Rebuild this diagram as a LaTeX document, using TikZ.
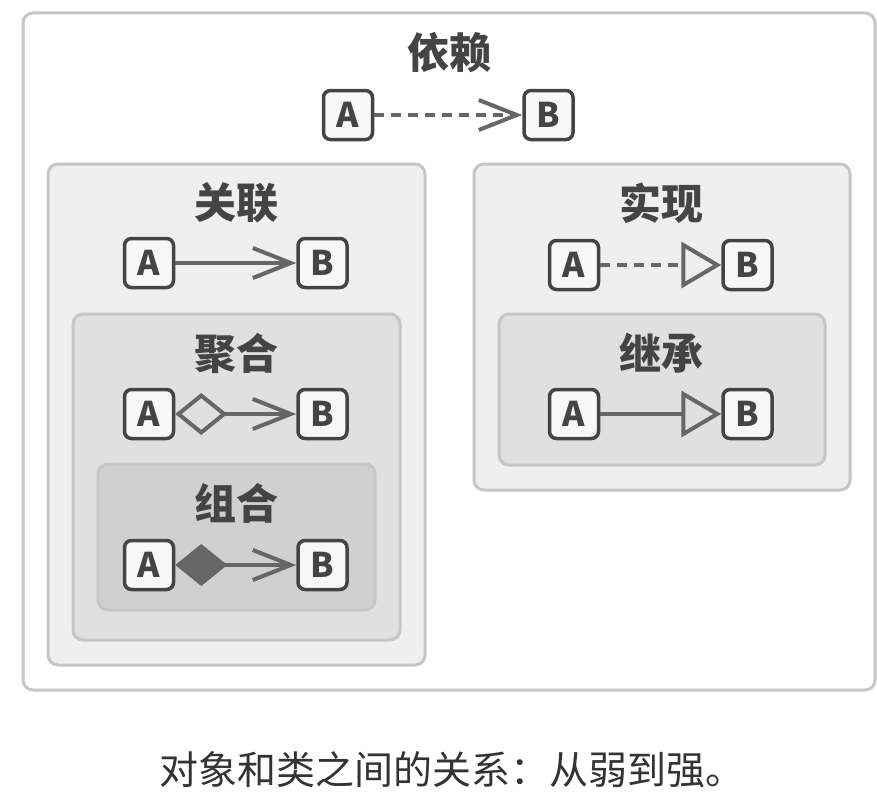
\documentclass[tikz,border=0pt]{standalone}
\usepackage{fontspec}
\setmainfont{Noto Sans CJK SC}
\usetikzlibrary{arrows.meta,positioning}
\definecolor{relInk}{HTML}{444444}
\definecolor{relText}{HTML}{333333}
\definecolor{relLine}{HTML}{666666}
\definecolor{relEdge}{HTML}{C6C6C6}
\definecolor{relFillA}{HTML}{EFEFEF}
\definecolor{relFillB}{HTML}{E0E0E0}
\definecolor{relFillC}{HTML}{D0D0D0}
\definecolor{relBox}{HTML}{F7F7F7}
\tikzset{
  cls/.style={rectangle, rounded corners=7pt, draw=relInk, line width=3.5pt, fill=relBox, minimum width=49pt, minimum height=49pt, inner sep=0pt, font=\fontsize{34}{34}\selectfont\bfseries, text=relInk},
  frame/.style={rounded corners=10pt, draw=relEdge, line width=3pt},
  title/.style={font=\fontsize{42}{42}\selectfont\bfseries, text=relInk},
  link/.style={line width=4pt, draw=relLine},
  barb/.style={link, -{Straight Barb[length=38pt, width=30pt, line width=4pt]}},
  hollow/.style={link, -{Triangle[open, length=40pt, width=46pt, line width=4pt]}},
  dashes/.style={dash pattern=on 10pt off 7pt}
}
\begin{document}
\begin{tikzpicture}[x=1pt,y=-1pt]
\useasboundingbox[fill=white] (0,0) rectangle (877,808);

% frames
\draw[frame, fill=white] (23,13) rectangle (875,690);
\draw[frame, fill=relFillA] (48,164) rectangle (425,665);
\draw[frame, fill=relFillB] (73,314) rectangle (400,640);
\draw[frame, fill=relFillC] (98,464) rectangle (375,610);
\draw[frame, fill=relFillA] (474,164) rectangle (850,490);
\draw[frame, fill=relFillB] (499,314) rectangle (825,465);

% titles
\node[title] (tDep) at (449,53) {依赖};
\node[title] (tAssoc) at (236,203) {关联};
\node[title] (tAgg) at (236,353) {聚合};
\node[title] (tComp) at (236,503) {组合};
\node[title] (tReal) at (661,203) {实现};
\node[title] (tInh) at (661,353) {继承};

% classes
\node[cls] (depA) at (348,115) {A};
\node[cls, right=148pt of depA] (depB) {B};
\node[cls] (assocA) at (149,263) {A};
\node[cls, right=121pt of assocA] (assocB) {B};
\node[cls] (aggA) at (149,414) {A};
\node[cls, right=121pt of aggA] (aggB) {B};
\node[cls] (compA) at (149,565) {A};
\node[cls, right=121pt of compA] (compB) {B};
\node[cls] (realA) at (574,265) {A};
\node[cls, right=121pt of realA] (realB) {B};
\node[cls] (inhA) at (574,414) {A};
\node[cls, right=121pt of inhA] (inhB) {B};

% relations
\draw[barb, dashes] (depA.east) -- (depB.west);
\draw[barb] (assocA.east) -- (assocB.west);
\draw[link, {Diamond[open, length=52pt, width=42pt, line width=4pt]}-{Straight Barb[length=38pt, width=30pt, line width=4pt]}] (aggA.east) -- (aggB.west);
\draw[link, {Diamond[length=52pt, width=42pt, line width=4pt, fill=relLine]}-{Straight Barb[length=38pt, width=30pt, line width=4pt]}] (compA.east) -- (compB.west);
\draw[hollow, dashes] (realA.east) -- (realB.west);
\draw[hollow] (inhA.east) -- (inhB.west);

\node[font=\fontsize{39}{39}\selectfont, text=relText] (caption) at (452,770) {对象和类之间的关系：从弱到强。};
\end{tikzpicture}
\end{document}
